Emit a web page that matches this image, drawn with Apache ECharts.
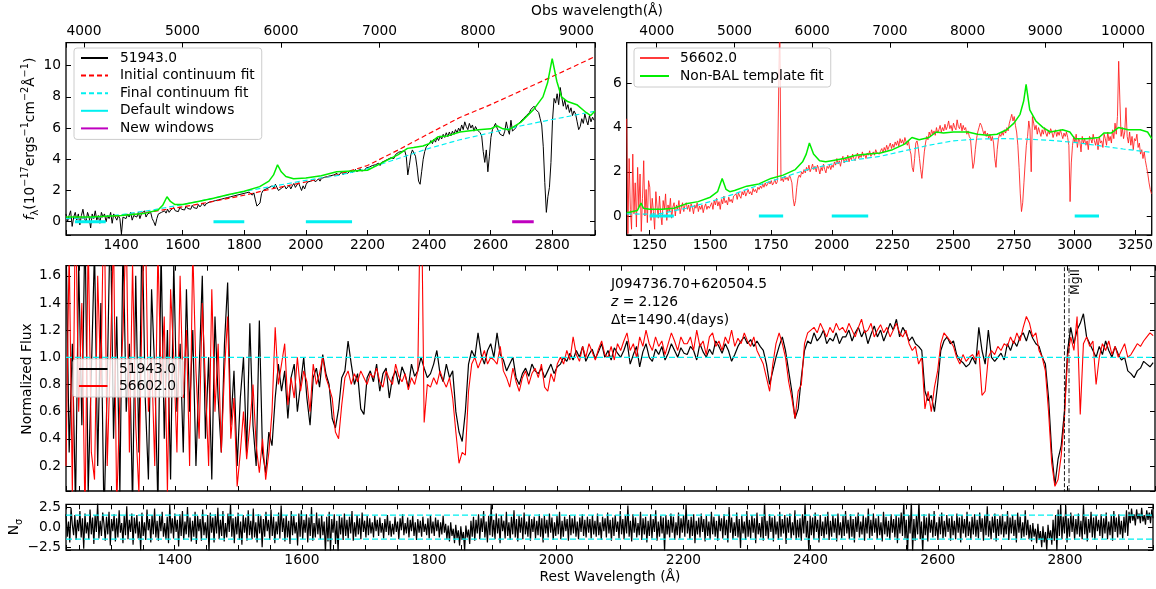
<!DOCTYPE html>
<html><head><meta charset="utf-8">
<script src="https://cdn.jsdelivr.net/npm/echarts@6/dist/echarts.min.js"></script>
<style>html,body{margin:0;padding:0;background:#fff}#c{width:1156px;height:589px}</style>
</head><body><div id="c"></div>
<script>
// ---------------- data ----------------
const REDSHIFT = 2.126;
const restRangeTopLeft = [1221, 2939];
const restRangeRight = [1156, 3317];
const restRangeLower = [1229, 2938.5];

// normalized flux (middle panel), sampled from 1229 A every ~4.98 A
const normStart = 1229, normStep = 4.9755;
const norm51943 = [
1.9,0.3,1.1,-0.1,1.7,0.5,2.0,0.0,0.9,1.8,0.2,1.4,-0.2,0.8,2.1,0.4,1.3,0.0,1.9,0.6,1.1,-0.1,1.6,0.3,2.0,0.7,0.1,1.5,0.9,-0.1,1.8,0.4,1.2,0.1,1.7,0.6,
1.1,0.3,1.5,0.6,1.2,0.2,0.9,1.6,0.4,1.0,0.1,1.3,0.7,0.3,1.1,1.55,
0.5,0.9,0.2,0.7,1.0,0.3,1.25,0.5,0.2,1.27,0.3,0.15,0.45,0.35,0.7,0.95,
0.75,0.9,0.55,0.85,0.95,0.6,0.8,1.0,0.7,0.5,0.85,0.92,0.78,1.02,0.88,0.8,
0.55,0.48,0.62,0.85,0.9,1.12,0.95,0.8,0.88,0.62,0.58,0.85,
0.9,0.82,0.95,0.75,0.88,0.92,0.7,0.85,0.9,0.8,0.93,0.87,0.78,0.95,0.86,0.9,1.0,0.92,0.85,0.88,
0.95,1.05,0.88,0.82,0.95,0.85,0.9,0.6,0.45,0.38,
0.6,0.95,1.05,1.0,1.18,1.02,0.95,1.05,1.1,1.0,
1.18,1.02,0.98,0.9,0.95,1.0,0.85,0.8,0.88,0.92,0.86,0.95,0.9,0.88,0.92,0.85,0.9,0.95,0.88,0.93,
0.95,1.0,0.97,1.03,0.98,1.05,1.0,1.08,0.97,1.02,1.06,0.99,1.04,1.1,1.0,1.05,0.98,1.07,1.03,1.0,
1.05,1.12,0.95,1.02,1.08,0.93,1.04,1.1,1.0,0.97,1.06,1.02,1.08,0.98,1.03,1.1,1.05,1.0,1.07,1.03,
1.02,1.08,1.05,0.98,1.1,1.04,1.0,1.06,1.02,1.12,1.08,1.03,1.1,1.05,0.97,1.02,1.08,1.12,1.15,1.1,1.13,1.08,1.12,1.08,1.05,0.95,0.8,0.9,1.0,1.08,
1.15,1.05,0.9,0.75,0.55,0.62,0.85,1.05,1.12,1.1,1.18,1.12,1.15,1.2,1.1,1.14,1.12,1.18,1.1,1.15,
1.15,1.2,1.12,1.18,1.22,1.15,1.2,1.1,1.17,1.23,1.15,1.2,1.12,1.18,1.25,1.2,1.28,1.15,1.22,1.18,1.12,1.15,1.1,1.08,1.05,
0.75,0.68,0.72,0.6,0.8,1.05,1.12,1.15,1.1,1.12,1.02,0.98,0.96,0.93,0.95,
1.0,0.95,1.22,1.05,0.95,1.2,1.0,0.97,1.0,1.03,0.98,1.1,1.05,1.12,1.08,1.15,1.18,1.12,1.2,1.14,
1.1,1.08,1.0,0.95,0.7,0.3,0.06,0.25,0.35,0.6,1.05,1.22,1.1,1.2,1.25,1.32,1.15,
1.1,1.05,1.0,1.08,1.02,1.12,1.05,1.0,1.08,1.02,0.98,1.0,0.9,0.88,0.85,0.9,0.92,0.97,0.95,0.93,0.96];
const norm56602 = [
0.2,1.8,0.0,2.2,0.6,1.4,-0.2,1.9,0.3,0.1,1.6,0.8,2.3,0.2,1.0,1.9,-0.1,0.7,1.2,2.0,0.3,1.7,0.5,0.0,1.4,2.1,0.6,1.0,0.2,1.8,0.8,1.3,0.0,1.5,1.0,0.3,
1.6,0.7,1.2,0.2,1.8,0.9,0.4,1.4,0.8,0.2,1.5,0.6,1.1,0.3,0.9,1.3,
0.4,0.7,0.05,0.3,0.6,0.25,0.5,0.8,0.35,0.15,0.4,0.1,0.3,0.6,1.22,0.8,
0.95,1.1,0.65,0.85,0.7,1.0,0.75,0.9,0.82,0.6,0.95,0.8,0.88,1.0,0.85,0.78,
0.7,0.45,0.4,0.65,0.85,0.9,0.8,0.88,0.82,0.9,0.85,0.8,
0.88,0.85,0.92,0.82,0.78,0.9,0.84,0.8,0.95,0.86,0.82,0.88,0.76,0.85,0.8,0.9,2.5,0.52,0.8,0.78,
0.85,0.8,0.9,0.83,0.78,0.85,0.7,0.45,0.22,0.3,
0.28,0.75,0.95,1.0,0.92,0.98,1.05,0.95,1.0,0.98,
0.95,1.08,0.9,0.85,0.78,0.92,0.82,0.75,0.85,0.9,0.8,0.88,0.92,0.85,0.95,0.78,0.75,0.88,0.82,0.95,
1.0,0.95,1.05,0.98,1.15,1.02,0.97,1.08,1.0,1.1,1.04,0.98,1.06,1.12,1.02,1.0,1.08,0.98,1.1,1.05,
1.12,1.18,1.05,1.1,1.0,1.15,1.08,1.2,1.1,1.05,1.15,1.08,1.12,1.02,1.1,1.18,1.12,1.05,1.15,1.1,
1.1,1.15,1.05,1.2,1.08,1.12,1.02,1.15,1.18,1.08,1.12,1.05,1.15,1.1,1.2,1.08,1.14,1.1,1.18,1.12,1.08,1.15,1.05,1.0,0.95,0.85,0.75,0.95,1.1,1.18,
1.1,1.0,0.82,0.7,0.55,0.75,0.8,1.1,1.18,1.2,1.22,1.18,1.25,1.2,1.15,1.22,1.18,1.25,1.2,1.22,
1.18,1.25,1.2,1.15,1.22,1.28,1.18,1.2,1.25,1.15,1.2,1.24,1.18,1.22,1.15,1.2,1.25,1.18,1.15,1.2,1.1,1.05,1.08,0.95,1.0,
0.62,0.75,0.6,0.78,0.9,1.1,1.18,1.15,1.12,1.08,1.0,0.95,1.02,0.97,1.0,
1.02,0.98,1.05,0.72,0.75,1.0,1.05,1.02,1.08,1.05,1.1,1.08,1.15,1.1,1.18,1.12,1.22,1.3,1.25,1.15,
1.18,1.05,1.0,0.9,0.6,0.22,0.05,0.1,0.28,0.55,1.0,1.15,1.05,1.3,0.58,1.1,1.15,
1.08,1.12,0.8,1.0,1.1,1.05,1.12,1.02,1.08,1.0,1.05,1.1,1.0,1.02,1.06,1.1,1.08,1.12,1.15,1.18,1.16];

// residual N_sigma (bottom panel), from 1229 A every ~1.99 A
const residStart = 1229, residStep = 1.9902;
const residual = [
1.6,-1.2,0.7,-1.9,2.4,0.3,-1.0,1.5,-1.6,0.9,-0.5,2.0,-1.3,1.1,-2.7,1.7,-0.8,0.6,-1.5,2.2,
-0.9,1.2,-2.1,1.5,-0.6,3.0,-1.4,0.8,-1.1,1.8,0.4,-1.7,1.3,-0.9,1.9,-2.3,1.0,-0.5,1.6,-1.8,
1.1,-1.3,2.1,-0.7,0.5,-2.0,1.4,-1.0,2.6,-1.5,0.9,-0.6,1.7,-2.2,1.2,-0.8,1.5,-1.4,0.7,-2.9,
1.8,-1.1,0.6,-1.6,2.2,-0.4,1.0,-1.9,1.5,-0.9,2.3,-1.3,0.8,-1.7,1.4,-0.5,1.9,-1.2,0.5,-1.5,
1.3,-2.0,2.8,-0.8,1.1,-1.4,1.7,-0.6,0.9,-2.4,1.6,-1.1,2.0,-1.6,0.7,-0.9,2.5,-1.3,1.2,-1.8,
0.8,-1.2,1.9,-2.1,1.4,-0.5,1.0,-1.7,2.2,-1.0,0.6,-1.4,1.5,-3.1,1.8,-0.7,1.2,-1.9,1.6,-0.8,
2.4,-1.5,0.9,-1.1,2.0,-1.8,0.5,-1.3,1.7,-0.6,2.9,-1.2,1.1,-2.0,1.3,-0.9,1.8,-1.6,0.7,-2.2,
1.5,-0.7,1.2,-1.7,2.1,-1.0,0.8,-1.5,2.3,-1.3,0.6,-1.9,1.6,-0.8,1.4,-2.5,1.0,-1.2,1.9,-0.5,
0.9,-1.6,2.2,-1.1,1.3,-2.0,0.7,-0.9,1.8,-1.4,2.7,-0.6,1.1,-1.8,1.5,-1.3,0.8,-2.1,2.0,-1.0,
1.4,-0.8,0.6,-2.3,1.7,-1.2,2.1,-1.5,0.9,-0.7,1.6,-1.9,1.2,-1.1,2.5,-1.7,0.5,-1.3,1.8,-0.9,
1.1,-1.5,1.5,-1.0,0.7,-3.2,1.3,-1.8,1.9,-3.0,1.0,-0.7,1.6,-2.1,0.8,-3.1,1.4,-0.9,1.2,-1.6,
1.7,-1.1,0.9,-1.4,1.3,-0.8,2.0,-1.7,0.6,-1.2,1.5,-0.9,1.1,-1.5,1.8,-0.6,0.8,-1.3,1.4,-1.0,
1.1,-0.8,0.6,-1.3,1.4,-0.5,0.9,-1.1,1.2,-0.7,0.5,-1.4,1.0,-0.6,1.5,-1.0,0.8,-1.2,0.4,-0.9,
1.3,-0.6,0.7,-1.5,1.1,-0.4,1.6,-1.0,0.5,-0.8,1.2,-1.3,0.9,-0.5,1.4,-1.1,0.6,-1.6,1.0,-0.7,
0.8,-1.2,1.3,-0.6,0.4,-1.0,1.1,-1.4,1.5,-0.8,0.7,-1.1,1.2,-0.5,0.9,-1.3,0.6,-0.9,1.4,-0.7,
0.4,-1.5,0.2,-1.8,0.6,-1.1,-0.2,-2.0,0.3,-1.4,-0.4,-2.3,0.1,-1.6,-0.6,-2.9,0.2,-1.3,-0.3,-2.1,
0.8,-1.2,1.3,-1.7,0.9,-0.8,1.6,-1.5,1.1,-0.6,2.0,-1.3,0.7,-1.9,1.4,-1.0,2.8,-1.2,0.9,-1.5,
1.7,-0.8,1.1,-2.0,1.5,-0.5,0.8,-1.4,1.9,-1.1,0.6,-1.6,1.3,-0.9,2.1,-1.3,1.0,-1.8,1.4,-0.7,
1.2,-1.5,1.8,-0.9,0.7,-1.2,1.5,-1.7,1.0,-0.6,1.3,-1.4,0.8,-1.0,1.6,-1.2,1.1,-1.9,1.4,-0.8,
0.9,-1.3,1.7,-0.7,1.2,-1.6,0.6,-1.1,1.4,-0.9,1.9,-1.5,0.8,-1.2,1.3,-0.5,1.0,-1.7,1.5,-1.0,
1.1,-0.8,1.4,-1.2,0.7,-1.5,1.2,-0.6,1.6,-1.1,0.9,-1.3,1.3,-0.7,1.0,-1.4,1.5,-0.9,0.8,-1.2,
1.7,-1.0,0.6,-1.6,1.3,-0.5,1.1,-1.3,1.8,-0.8,0.9,-1.7,1.2,-1.1,1.5,-0.6,0.7,-1.4,2.0,-0.9,
1.0,-1.5,1.4,-0.8,2.7,-1.2,0.8,-1.8,1.6,-0.7,1.2,-1.3,0.5,-1.0,1.9,-1.6,1.1,-0.9,1.3,-1.9,
0.8,-1.1,1.6,-1.4,1.0,-0.6,2.1,-1.7,0.7,-1.2,1.4,-0.8,1.2,-3.0,1.5,-0.9,0.9,-1.3,1.7,-0.7,
1.3,-1.6,0.6,-1.0,1.8,-1.4,1.1,-0.7,1.5,-1.2,2.9,-0.8,0.9,-1.5,1.3,-1.1,1.6,-2.0,0.8,-0.9,
1.2,-1.3,1.7,-0.6,1.0,-1.8,1.4,-1.1,0.7,-1.5,1.9,-0.9,1.3,-1.2,0.8,-1.7,1.5,-0.5,1.1,-1.4,
1.6,-1.0,0.9,-1.9,2.5,-0.7,1.2,-1.5,0.6,-1.1,1.8,-1.3,1.0,-2.6,1.4,-0.8,0.7,-1.6,2.0,-1.2,
0.9,-1.4,1.5,-0.7,1.1,-2.0,1.8,-0.9,0.5,-1.3,1.3,-1.7,3.1,-1.1,0.8,-1.5,1.6,-0.6,1.2,-1.8,
1.4,-0.9,0.7,-1.6,1.9,-1.2,1.0,-0.8,1.5,-2.1,1.2,-0.7,1.7,-1.4,0.6,-1.0,2.1,-1.6,0.9,-1.3,
1.1,-1.7,1.6,-0.8,3.0,-1.3,0.8,-3.2,1.4,-1.0,1.2,-1.5,1.8,-0.6,0.9,-1.9,1.5,-1.1,0.7,-1.4,
1.3,-0.9,1.9,-1.6,0.8,-1.2,1.5,-0.7,1.1,-1.8,1.7,-1.0,0.6,-1.4,1.4,-1.1,2.0,-0.8,0.9,-1.5,
1.6,-1.2,1.0,-1.9,1.3,-0.6,1.8,-1.3,0.7,-0.9,1.5,-1.7,1.2,-0.8,2.3,-1.4,0.9,-1.1,1.7,-0.7,
1.1,-1.5,1.4,-1.0,0.6,-1.8,1.9,-0.9,1.3,-1.2,0.8,-1.6,1.6,-0.7,1.0,-1.3,1.5,-2.0,1.2,-0.8,
1.8,-1.1,3.1,-1.4,0.9,-3.3,1.5,-0.8,3.2,-3.1,1.0,-1.7,1.4,-0.9,3.3,-1.5,0.7,-3.2,1.6,-1.0,
1.2,-1.8,1.7,-0.7,0.9,-1.3,2.0,-1.1,0.6,-1.6,1.3,-0.9,1.8,-1.4,0.8,-1.2,1.5,-0.6,1.1,-1.7,
1.4,-1.0,0.8,-1.5,1.7,-0.7,1.2,-1.9,1.5,-0.8,1.0,-1.3,1.9,-1.1,0.7,-1.6,1.3,-0.9,1.6,-1.2,
0.9,-1.4,1.8,-0.6,1.1,-1.7,1.5,-1.0,2.6,-1.2,0.8,-1.5,1.3,-0.7,1.7,-1.8,1.0,-1.1,1.4,-0.9,
1.6,-1.3,0.7,-0.9,2.0,-1.6,1.2,-0.8,1.5,-1.1,0.9,-1.9,1.8,-0.7,1.3,-1.4,0.6,-1.2,2.1,-1.0,
0.9,-1.5,0.3,-1.8,0.5,-1.2,-0.2,-2.0,0.4,-1.6,-0.5,-2.5,0.1,-1.9,-0.6,-2.9,0.3,-1.4,-0.4,-2.2,
0.9,-1.7,1.5,-3.0,2.2,-1.1,2.9,-1.5,1.3,-0.8,2.7,-1.9,1.1,-1.2,1.8,-0.6,1.4,-1.6,1.0,-0.9,
1.7,-1.2,0.8,-1.5,2.8,-0.9,1.3,-1.8,1.0,-0.7,1.9,-1.3,1.2,-1.6,1.5,-0.5,0.9,-1.1,1.6,-1.4,
1.1,-0.8,1.8,-1.5,0.7,-1.0,1.4,-1.7,2.0,-0.6,1.2,-1.3,1.6,-0.9,0.8,-1.4,1.3,-0.7,2.1,-1.1,
1.9,0.5,2.3,0.8,1.6,0.2,2.2,1.0,1.7,0.5,2.4,0.7,1.5,0.3,2.1,0.9,1.8,0.5,2.2,1.1];

// flux of epoch 51943 (top-left), from 1221 A every 5 A
const flux51943Start = 1221, flux51943Step = 5;
const flux51943 = [
0.5,0.0,0.4,0.7,-0.3,0.3,0.6,0.1,0.5,-0.2,0.4,0.8,0.2,0.0,0.6,0.3,-0.4,0.5,0.2,0.7,0.1,0.4,-0.1,0.6,0.3,0.5,0.0,0.4,0.2,0.6,-0.1,0.5,0.3,0.1,0.4,0.2,
-0.8,0.3,
0.4,0.2,0.5,0.3,0.6,0.1,0.4,0.5,0.3,0.6,0.2,0.5,0.4,0.7,0.3,0.5,0.4,0.6,0.2,0.0,
-0.25,0.2,0.5,
0.4,0.6,0.5,0.7,0.55,0.8,0.6,0.75,0.65,0.9,0.7,0.8,0.65,0.95,0.8,0.9,0.75,1.0,0.85,0.95,0.8,1.05,0.9,1.0,
0.85,1.1,0.95,1.05,1.2,1.0,1.15,1.1,1.25,1.15,1.3,1.2,1.35,1.25,1.4,1.3,1.45,1.35,1.5,1.4,1.55,1.45,1.6,1.5,1.65,1.55,1.7,1.6,1.75,1.65,1.8,
1.7,1.85,1.75,1.9,1.8,1.7,1.85,1.4,1.0,0.9,
1.2,1.8,2.0,1.9,2.1,2.0,2.2,2.1,2.3,2.15,2.4,2.2,2.0,1.9,2.15,2.05,2.3,2.1,2.2,2.35,2.1,2.3,2.45,2.2,2.35,2.5,2.25,2.0,2.3,2.1,
2.4,2.55,2.45,2.6,2.5,2.7,2.55,2.65,2.75,2.6,2.8,2.7,2.85,2.75,2.9,2.8,2.95,2.85,3.0,2.9,3.1,2.95,3.05,3.2,3.0,3.15,3.25,3.1,3.2,3.3,3.15,3.25,3.35,3.2,3.3,3.4,3.25,3.35,3.3,3.45,
3.4,3.5,3.45,3.6,3.5,3.65,3.55,3.75,3.6,3.8,3.7,3.9,3.8,4.0,3.9,4.1,4.2,4.05,4.3,4.2,4.45,4.35,4.5,4.4,
4.55,4.2,3.0,3.6,4.3,4.6,4.5,4.2,3.5,2.6,2.4,3.2,4.0,4.5,4.8,4.9,5.0,
5.2,5.0,5.3,5.1,5.4,5.2,5.5,5.3,5.6,5.4,5.7,5.45,5.75,5.5,5.8,5.6,5.9,5.7,6.0,5.8,6.2,5.9,6.4,6.1,5.9,6.3,6.0,6.2,5.8,6.1,5.9,6.0,5.7,5.5,
4.5,3.8,4.6,3.2,4.2,5.4,5.9,6.1,
6.3,6.0,5.8,5.6,5.7,5.5,5.8,6.4,5.9,5.6,6.5,5.8,5.9,6.0,6.2,6.1,6.4,6.3,6.6,6.5,6.8,6.7,7.0,7.2,7.1,7.4,7.2,
7.3,7.0,6.6,6.2,4.8,2.5,0.6,1.6,2.2,3.8,6.5,7.9,
7.6,8.2,7.5,8.6,8.0,7.4,7.8,7.2,7.5,7.0,7.3,6.8,7.1,6.9,6.4,5.9,6.1,6.6,6.3,6.9,6.5,6.2,6.8,6.4,6.7,6.5];

// flux of epoch 56602 (top-right), from 1156 A every 5 A
const flux56602Start = 1156, flux56602Step = 5;
const flux56602 = [
4.4,-0.8,2.6,0.3,-0.6,2.8,0.1,1.5,-0.5,2.2,0.4,1.9,-0.7,0.8,2.5,0.0,1.2,-0.3,1.6,
1.3,-0.2,0.8,0.2,-0.6,1.1,0.4,-0.1,0.9,0.1,-0.4,0.7,0.3,1.0,-0.2,0.5,0.2,0.8,-0.1,0.4,0.6,0.0,0.5,0.3,0.7,0.1,0.4,0.6,0.2,0.5,
0.6,0.3,0.5,0.2,0.55,0.4,0.1,0.5,0.35,0.6,0.2,0.45,0.3,0.5,0.15,0.4,0.55,0.3,0.45,0.35,
0.4,0.6,0.3,0.7,0.5,0.8,0.45,0.65,0.3,0.75,0.55,0.9,0.6,0.7,0.5,0.85,0.65,0.75,0.6,0.9,
0.85,1.0,0.75,1.05,0.9,0.8,1.1,0.95,1.15,0.9,1.05,1.2,1.0,1.1,0.95,1.25,1.1,1.2,1.05,1.3,
1.2,1.35,1.25,1.45,1.3,1.5,1.35,1.4,1.55,1.45,1.6,1.4,1.5,1.65,1.45,1.55,
1.5,9.0,1.6,
1.7,1.55,1.8,1.65,1.75,1.6,1.85,1.7,1.5,
0.8,0.45,0.7,1.3,
1.7,1.85,1.75,2.0,1.9,2.1,1.95,2.2,2.05,2.3,2.0,2.15,2.35,2.1,2.25,2.0,2.3,2.15,1.9,2.2,2.05,2.35,2.1,1.95,2.25,2.15,2.3,2.1,
2.3,2.2,2.45,2.3,2.6,2.35,2.5,2.25,2.55,2.7,2.4,2.6,2.5,2.75,2.45,2.65,2.55,2.8,2.6,2.5,2.7,2.85,2.6,2.75,2.65,2.9,2.7,2.8,2.6,2.85,2.75,2.95,2.7,2.8,2.9,2.75,3.0,2.85,2.9,2.8,
2.95,3.05,2.85,3.1,2.95,3.2,3.0,3.15,3.3,3.05,3.25,3.1,3.35,3.2,3.4,3.15,3.5,3.3,3.45,3.25,3.55,3.35,3.2,3.4,3.0,2.8,
2.2,2.0,2.6,3.3,3.4,3.1,2.6,2.1,1.7,2.3,2.9,
3.3,3.6,3.45,3.8,3.6,3.9,3.7,3.85,3.65,4.0,3.75,3.9,4.1,3.8,4.0,3.85,4.15,3.9,4.05,4.3,3.95,4.1,3.85,4.2,4.0,3.9,4.35,4.05,3.95,4.2,3.85,4.1,3.9,4.0,
3.7,3.85,3.6,3.5,2.8,2.15,2.4,3.0,3.5,3.8,4.0,4.2,
4.1,3.9,3.7,3.85,3.6,3.75,3.5,3.7,3.4,3.6,3.3,2.6,2.2,3.0,3.5,3.7,3.6,3.8,3.65,3.9,3.75,4.0,3.85,4.2,4.4,4.6,4.3,4.5,4.1,3.8,
3.2,2.2,1.0,0.2,0.6,1.5,2.4,3.2,3.6,
4.3,3.9,2.0,4.5,4.2,3.9,4.1,3.7,4.0,3.8,3.6,3.9,3.7,4.0,3.75,3.6,3.85,3.7,3.95,3.8,3.55,3.75,3.9,3.6,3.8,3.65,3.9,3.7,3.5,3.75,3.6,3.8,3.55,3.2,0.65,2.4,
3.2,3.6,3.3,3.7,3.1,3.5,3.4,2.9,3.6,3.3,3.5,3.2,3.4,3.0,3.6,3.5,3.3,3.7,3.4,3.2,3.5,3.0,3.6,3.3,3.4,3.1,3.7,3.5,3.2,3.8,3.4,3.6,3.3,3.9,3.5,4.2,3.7,4.5,
7.0,5.2,3.6,
4.0,3.5,3.8,4.9,3.6,3.3,3.8,3.2,3.6,3.0,3.5,3.4,3.7,3.1,3.3,2.8,3.0,2.6,2.9,2.5,2.2,1.9,1.5,1.2,1.0];

// Template (non-BAL) fits
const tplLeftWave = [1221,1300,1400,1480,1520,1535,1549,1560,1575,1600,1650,1700,1750,1800,1850,1880,1895,1908,1920,1935,1960,2000,2050,2100,2150,2200,2250,2300,2330,2350,2380,2400,2430,2460,2500,2560,2600,2620,2640,2660,2700,2740,2770,2785,2800,2815,2830,2850,2880,2910,2925,2939];
const tplLeftFlux = [0.3,0.3,0.4,0.55,0.75,1.05,1.6,1.3,1.1,1.1,1.3,1.5,1.75,1.95,2.25,2.6,3.0,3.65,3.2,2.9,2.75,2.8,2.95,3.2,3.25,3.3,3.8,4.3,4.7,4.75,4.85,5.0,5.45,5.5,5.75,5.9,5.95,6.15,5.95,5.9,6.4,7.2,8.0,8.9,10.45,9.0,8.0,7.7,7.5,7.0,6.8,7.1];
const tplRightWave = [1156,1200,1215,1225,1250,1300,1350,1400,1450,1500,1530,1549,1565,1580,1600,1650,1700,1750,1800,1850,1880,1895,1908,1925,1950,1975,2000,2050,2100,2150,2200,2250,2300,2330,2360,2400,2430,2460,2500,2560,2600,2640,2680,2720,2750,2775,2790,2800,2815,2840,2870,2900,2950,2980,3000,3050,3100,3120,3150,3180,3220,3270,3300,3317];
const tplRightFlux = [0.15,0.25,0.58,0.35,0.3,0.3,0.35,0.55,0.65,0.85,1.1,1.7,1.2,1.1,1.15,1.35,1.45,1.7,1.85,2.1,2.45,2.8,3.3,2.8,2.5,2.45,2.5,2.6,2.75,2.8,2.85,3.0,3.25,3.55,3.45,3.55,3.8,3.75,3.8,3.8,3.7,3.65,3.7,3.9,4.2,4.6,5.2,5.95,4.8,4.3,4.0,3.8,3.9,3.8,3.5,3.5,3.55,3.75,3.75,4.0,3.9,3.9,3.8,3.5];

// Continuum fits
const contLeftWave = [1221,1300,1400,1500,1600,1700,1800,1900,2000,2100,2200,2300,2400,2500,2600,2700,2800,2939];
const contFinalLeft = [0.2,0.25,0.45,0.75,1.1,1.5,1.95,2.3,2.65,2.95,3.4,4.05,4.7,5.25,5.7,6.15,6.55,7.08];
const contInitLeft = [0.2,0.25,0.4,0.65,0.95,1.3,1.7,2.15,2.55,3.0,3.6,4.6,5.65,6.68,7.5,8.4,9.3,10.58];
const contRightWave = [1156,1250,1300,1400,1500,1600,1700,1800,1900,2000,2100,2200,2300,2400,2500,2600,2700,2800,2900,3000,3100,3200,3317];
const contRight = [0.1,0.08,0.12,0.35,0.65,1.0,1.4,1.75,2.1,2.35,2.55,2.7,2.95,3.2,3.4,3.48,3.5,3.48,3.42,3.33,3.18,3.03,2.88];

// Continuum windows (rest A)
const defaultWindows = [[1250,1350],[1700,1800],[2000,2150]];
const newWindows = [[2670,2740]];
const defaultWindowsRight = [[1250,1350],[1700,1800],[2000,2150],[3000,3100]];

const mgIILines = [2796.35, 2803.53];
const sigmaLevels = [-1.5, 1.5];

// ---------------- helpers ----------------
const FONT = '"DejaVu Sans","Liberation Sans",sans-serif';
const FS = 13.8;
const grid = (start, step, arr) => arr.map((v, i) => [start + i * step, v]);
const zipXY = (xs, ys) => xs.map((x, i) => [x, ys[i]]);
const segs = (wins, y) => { const out = []; wins.forEach((w, k) => { if (k) out.push([(wins[k-1][1] + w[0]) / 2, '-']); out.push([w[0], y], [w[1], y]); }); return out; };
const fmt = (step, dec) => v => { const k = v / step; if (Math.abs(k - Math.round(k)) > 1e-6) return ''; const s = dec ? v.toFixed(dec) : String(Math.round(v)); return s.replace('-', '\u2212'); };
const tickStyle = { show: true, inside: true, length: 5, lineStyle: { color: '#000', width: 1 } };

function xAx(gi, range, step, labelStep, pos, showLabel, margin) {
  return { type: 'value', gridIndex: gi, min: range[0], max: range[1], minInterval: step, maxInterval: step,
    splitNumber: Math.round((range[1] - range[0]) / step), position: pos,
    axisLine: { show: false, onZero: false }, splitLine: { show: false }, axisTick: tickStyle,
    axisLabel: { show: showLabel, margin: margin, color: '#000', fontSize: FS, fontFamily: FONT, formatter: fmt(labelStep, 0) } };
}
function yAx(gi, range, step, dec, pos, showLabel) {
  return { type: 'value', gridIndex: gi, min: range[0], max: range[1], minInterval: step, maxInterval: step,
    splitNumber: Math.round((range[1] - range[0]) / step), position: pos,
    axisLine: { show: false, onZero: false }, splitLine: { show: false }, axisTick: tickStyle,
    axisLabel: { show: showLabel, margin: 5, color: '#000', fontSize: FS, fontFamily: FONT, formatter: fmt(step, dec) } };
}
function line(name, xi, yi, data, color, width, dash, z) {
  return { name, type: 'line', xAxisIndex: xi, yAxisIndex: yi, data, symbol: 'none', showSymbol: false,
    connectNulls: false, clip: true, silent: true, z: z || 2,
    lineStyle: { color, width, type: dash || 'solid' }, itemStyle: { color } };
}

const obsL = restRangeTopLeft.map(v => v * (1 + REDSHIFT));
const obsR = restRangeRight.map(v => v * (1 + REDSHIFT));

const xAxes = [
  xAx(0, restRangeTopLeft, 200, 200, 'bottom', true, 3),
  xAx(0, obsL, 1000, 1000, 'top', true, 4),
  xAx(1, restRangeRight, 250, 250, 'bottom', true, 3),
  xAx(1, obsR, 1000, 1000, 'top', true, 4),
  xAx(2, restRangeLower, 50, 200, 'bottom', false, 3),
  xAx(2, restRangeLower, 50, 200, 'top', false, 3),
  xAx(3, restRangeLower, 50, 200, 'bottom', true, 3),
  xAx(3, restRangeLower, 50, 200, 'top', false, 3)
];
const yAxes = [
  yAx(0, [-0.85, 11.47], 2, 0, 'left', true), yAx(0, [-0.85, 11.47], 2, 0, 'right', false),
  yAx(1, [-0.86, 7.84], 2, 0, 'left', true), yAx(1, [-0.86, 7.84], 2, 0, 'right', false),
  yAx(2, [0.016, 1.674], 0.2, 1, 'left', true), yAx(2, [0.016, 1.674], 0.2, 1, 'right', false),
  yAx(3, [-2.85, 2.84], 2.5, 1, 'left', true), yAx(3, [-2.85, 2.84], 2.5, 1, 'right', false)
];

const CYAN = '#00f0f0', GREEN = '#00ee00', MAG = '#bf00bf';
const series = [
  // top-left
  line('51943.0', 0, 0, grid(flux51943Start, flux51943Step, flux51943), '#000', 1),
  line('Initial continuum fit', 0, 0, zipXY(contLeftWave, contInitLeft), '#ff0000', 1.2, [5, 3]),
  line('Final continuum fit', 0, 0, zipXY(contLeftWave, contFinalLeft), CYAN, 1.2, [5, 3]),
  line('Default windows', 0, 0, segs(defaultWindows, 0), CYAN, 3.2),
  line('New windows', 0, 0, segs(newWindows, 0), MAG, 3.2),
  line('tplL', 0, 0, zipXY(tplLeftWave, tplLeftFlux), GREEN, 1.5, null, 3),
  // top-right
  line('56602.0 ', 2, 2, grid(flux56602Start, flux56602Step, flux56602), 'rgba(255,25,25,0.85)', 1),
  line('Non-BAL template fit', 2, 2, zipXY(tplRightWave, tplRightFlux), GREEN, 1.5, null, 3),
  line('contR', 2, 2, zipXY(contRightWave, contRight), CYAN, 1.2, [5, 3], 3),
  line('winR', 2, 2, segs(defaultWindowsRight, 0), CYAN, 3.2, null, 3),
  // middle
  line('51943.0', 4, 4, grid(normStart, normStep, norm51943), '#000', 1.2),
  line('56602.0', 4, 4, grid(normStart, normStep, norm56602), '#ff0000', 1.1),
  line('unity', 4, 4, [[restRangeLower[0], 1], [restRangeLower[1], 1]], CYAN, 1.3, [6, 3], 3),
  line('mg1', 4, 4, [[mgIILines[0], 0], [mgIILines[0], 1.8]], '#000', 0.9, [4, 2], 3),
  line('mg2', 4, 4, [[mgIILines[1], 0], [mgIILines[1], 1.8]], '#000', 0.9, [5, 2, 1, 2], 3),
  // bottom
  line('resid', 6, 6, grid(residStart, residStep, residual), '#000', 1.2),
  line('sigLo', 6, 6, [[restRangeLower[0], sigmaLevels[0]], [restRangeLower[1], sigmaLevels[0]]], CYAN, 1.3, [6, 3], 3),
  line('sigHi', 6, 6, [[restRangeLower[0], sigmaLevels[1]], [restRangeLower[1], sigmaLevels[1]]], CYAN, 1.3, [6, 3], 3)
];

const legendBase = { orient: 'vertical', backgroundColor: 'rgba(255,255,255,0.8)', borderColor: '#cccccc', borderWidth: 1, borderRadius: 3,
  itemHeight: 12, selectedMode: false, itemStyle: { opacity: 0 },
  textStyle: { fontSize: FS, fontFamily: FONT, color: '#000', lineHeight: 14 } };

const txt = (x, y, text, extra) => ({ type: 'text', x, y, silent: true,
  style: Object.assign({ text, fill: '#000', fontSize: FS, fontFamily: FONT, align: 'left', verticalAlign: 'middle' }, extra || {}) });

const option = {
  animation: false,
  textStyle: { fontFamily: FONT },
  grid: [
    { left: 66, top: 42.7, width: 529, height: 192.3, show: true, borderColor: '#000', borderWidth: 1.3 },
    { left: 626.7, top: 42.7, width: 527.3, height: 192.3, show: true, borderColor: '#000', borderWidth: 1.3 },
    { left: 66, top: 265.7, width: 1089, height: 225.3, show: true, borderColor: '#000', borderWidth: 1.3 },
    { left: 66, top: 504.3, width: 1089, height: 45.7, show: true, borderColor: '#000', borderWidth: 1.3 }
  ],
  xAxis: xAxes,
  yAxis: yAxes,
  legend: [
    Object.assign({}, legendBase, { left: 74, top: 48, padding: [3, 7, 4, 6], itemWidth: 27, itemGap: 3.6,
      data: ['51943.0', 'Initial continuum fit', 'Final continuum fit', 'Default windows', 'New windows'],
      textStyle: Object.assign({}, legendBase.textStyle, { padding: [0, 0, 0, 7] }) }),
    Object.assign({}, legendBase, { left: 634, top: 48, padding: [3, 7, 4, 5], itemWidth: 29, itemGap: 4,
      data: ['56602.0 ', 'Non-BAL template fit'],
      formatter: n => n.trim(),
      textStyle: Object.assign({}, legendBase.textStyle, { padding: [0, 0, 0, 6] }) }),
    Object.assign({}, legendBase, { left: 73, top: 359, padding: [3, 7, 4, 5], itemWidth: 28.5, itemGap: 3,
      data: ['51943.0', '56602.0'],
      textStyle: Object.assign({}, legendBase.textStyle, { padding: [0, 0, 0, 6.5] }) })
  ],
  graphic: [
    txt(597, 11, 'Obs wavelength(\u00c5)', { align: 'center' }),
    txt(610, 577, 'Rest Wavelength (\u00c5)', { align: 'center' }),
    txt(611, 284, 'J094736.70+620504.5'),
    txt(611, 302, '{i|z} = 2.126', { rich: { i: { fontStyle: 'italic', fontSize: FS, fontFamily: FONT } } }),
    txt(611, 320, '\u0394t=1490.4(days)'),
    Object.assign(txt(1076, 282, 'MgII', { align: 'center', fontSize: 12.5 }), { rotation: Math.PI / 2 }),
    { type: 'text', x: 30, y: 139, rotation: Math.PI / 2, silent: true,
      style: { text: '{f|f}{s|\u03bb}(10{p|\u221217}ergs{p|\u22121}cm{p|\u22122}\u00c5{p|\u22121})', fill: '#000', fontSize: FS, fontFamily: FONT,
        lineHeight: 20, align: 'center', verticalAlign: 'middle',
        rich: { f: { fontStyle: 'italic', fontSize: FS, fontFamily: FONT, lineHeight: 20 },
                s: { fontSize: 9.7, fontFamily: FONT, verticalAlign: 'bottom', lineHeight: 20 },
                p: { fontSize: 9.7, fontFamily: FONT, verticalAlign: 'top', lineHeight: 20 } } } },
    { type: 'text', x: 27, y: 379, rotation: Math.PI / 2, silent: true,
      style: { text: 'Normalized Flux', fill: '#000', fontSize: FS, fontFamily: FONT, align: 'center', verticalAlign: 'middle' } },
    { type: 'text', x: 14, y: 527, rotation: Math.PI / 2, silent: true,
      style: { text: 'N{s|\u03c3}', fill: '#000', fontSize: FS, fontFamily: FONT, lineHeight: 20, align: 'center', verticalAlign: 'middle',
        rich: { s: { fontSize: 9.7, fontFamily: FONT, verticalAlign: 'bottom', lineHeight: 20 } } } }
  ],
  series
};

const chart = echarts.init(document.getElementById('c'), null, { renderer: 'canvas' });
chart.setOption(option);
</script>
</body></html>
